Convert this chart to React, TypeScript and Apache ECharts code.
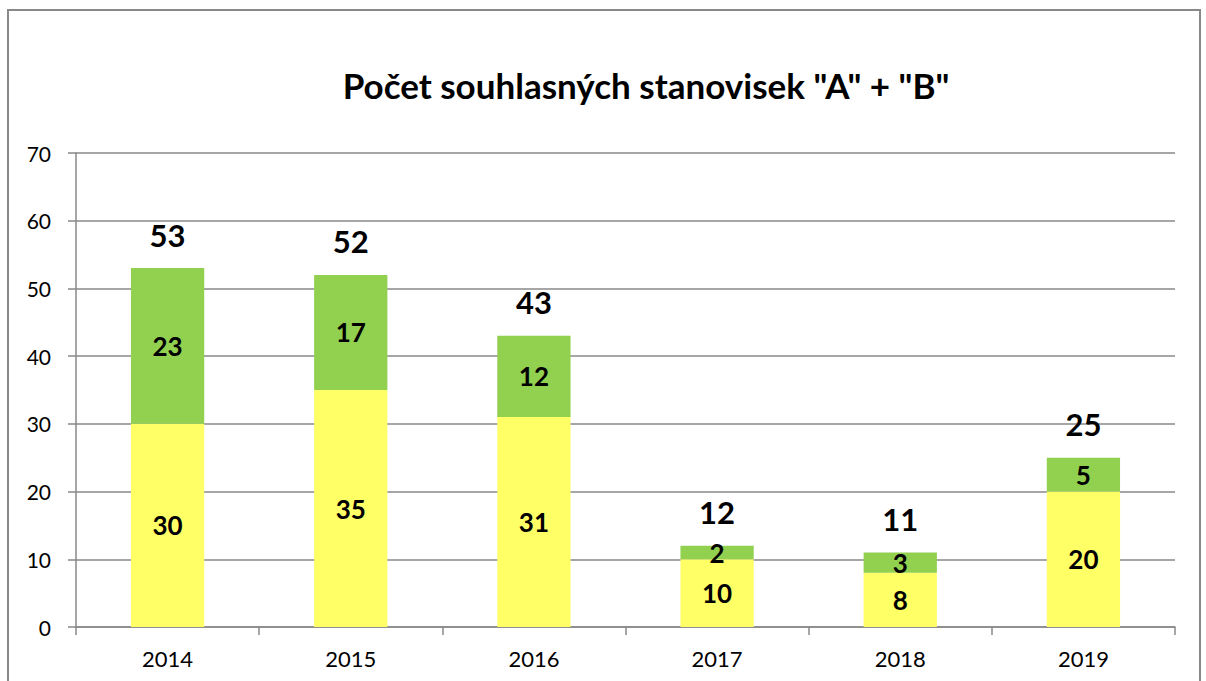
import React, { useEffect, useRef } from "react";
import * as echarts from "echarts";

const categories = ["2014", "2015", "2016", "2017", "2018", "2019"];
const seriesA = [30, 35, 31, 10, 8, 20];
const seriesB = [23, 17, 12, 2, 3, 5];
const totals = [53, 52, 43, 12, 11, 25];
const titleText = 'Počet souhlasných stanovisek "A" + "B"';

const FONT = "Lato, 'Open Sans', sans-serif";

export default function App() {
  const ref = useRef<HTMLDivElement>(null);
  useEffect(() => {
    if (!ref.current) return;
    const chart = echarts.init(ref.current, undefined, { renderer: "svg" });
    chart.setOption({
      animation: false,
      backgroundColor: "#ffffff",
      textStyle: { fontFamily: FONT },
      title: {
        text: titleText,
        left: 641,
        top: 62,
        textAlign: "center",
        textStyle: { fontFamily: FONT, fontWeight: "bold", fontSize: 35, color: "#000" },
      },
      graphic: [
        {
          type: "rect",
          shape: { x: 8, y: 10, width: 1192, height: 700 },
          style: { fill: "none", stroke: "#898989", lineWidth: 2 },
          silent: true,
        },
      ],
      grid: { left: 76, right: 31, top: 153, bottom: 54, containLabel: false },
      xAxis: {
        type: "category",
        data: categories,
        axisLine: { lineStyle: { color: "#898989", width: 1.5 } },
        axisTick: { show: true, length: 8, lineStyle: { color: "#898989", width: 1.5 } },
        axisLabel: { color: "#000", fontSize: 22, fontFamily: FONT, margin: 20 },
      },
      yAxis: {
        type: "value",
        min: 0,
        max: 70,
        interval: 10,
        axisLine: { show: true, lineStyle: { color: "#898989", width: 1.5 } },
        axisTick: { show: true, length: 8, lineStyle: { color: "#898989", width: 1.5 } },
        axisLabel: { color: "#000", fontSize: 21, fontFamily: FONT, margin: 25 },
        splitLine: { lineStyle: { color: "#898989", width: 1.5 } },
      },
      series: [
        {
          name: "A",
          type: "bar",
          stack: "s",
          data: seriesA,
          barWidth: "40%",
          itemStyle: { color: "#FFFF66" },
          label: {
            show: true,
            position: "inside",
            color: "#000",
            fontWeight: "bold",
            fontSize: 26,
            fontFamily: FONT,
          },
        },
        {
          name: "B",
          type: "bar",
          stack: "s",
          data: seriesB,
          barWidth: "40%",
          itemStyle: { color: "#92D050" },
          label: {
            show: true,
            position: "inside",
            color: "#000",
            fontWeight: "bold",
            fontSize: 26,
            fontFamily: FONT,
          },
        },
        {
          name: "Celkem",
          type: "bar",
          stack: "s",
          data: totals.map(() => 0),
          barWidth: "40%",
          itemStyle: { color: "rgba(0,0,0,0)" },
          label: {
            show: true,
            position: "top",
            distance: 18,
            formatter: (p: any) => String(totals[p.dataIndex]),
            color: "#000",
            fontWeight: "bold",
            fontSize: 31,
            fontFamily: FONT,
            opacity: 1,
          },
          z: 5,
        },
      ],
    });
    return () => chart.dispose();
  }, []);
  return (
    <div
      ref={ref}
      style={{ position: "fixed", left: 0, top: 0, width: 1206, height: 681 }}
    />
  );
}
